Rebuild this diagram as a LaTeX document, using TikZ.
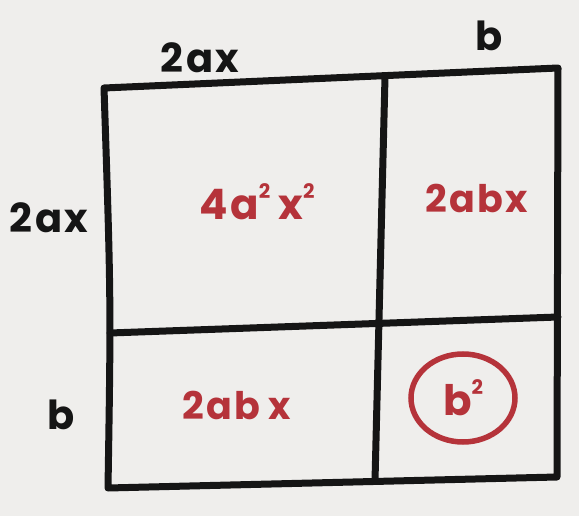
\documentclass[tikz,border=0pt]{standalone}
\usepackage{fontspec}
\setmainfont{Poppins}
\newfontfamily\handfont[LetterSpace=6]{Poppins}
\definecolor{paper}{HTML}{EFEEEC}
\definecolor{ink}{HTML}{151515}
\definecolor{redink}{HTML}{B5333A}
\tikzset{
  gridline/.style={draw=ink, line width=7pt, line join=round, line cap=round},
  blacklabel/.style={text=ink, font=\handfont\fontsize{40}{40}\selectfont\bfseries, inner sep=0pt},
  redlabel/.style={text=redink, font=\handfont\fontsize{38}{38}\selectfont\bfseries, inner sep=0pt}
}
\newcommand{\sqr}{\raisebox{0.5em}{\fontsize{20}{20}\selectfont 2}}
\begin{document}
\begin{tikzpicture}[x=1pt,y=-1pt]
\fill[paper] (0,0) rectangle (579,516);
\useasboundingbox (0,0) rectangle (579,516);
% corners
\coordinate (tl) at (104,88);
\coordinate (tr) at (558,68);
\coordinate (br) at (557,477);
\coordinate (bl) at (108,488);
\coordinate (vt) at (385,77);
\coordinate (vb) at (375,481);
\coordinate (hl) at (110,333);
\coordinate (hr) at (558,317);
\draw[gridline] (tl) -- (tr) -- (br) -- (bl) .. controls (111,300) .. (tl);
\draw[gridline] (vt) -- (vb);
\draw[gridline] (hl) -- (hr);
% labels
\node[blacklabel] (top2ax) at (200,58) {2ax};
\node[blacklabel] (topb) at (489,36) {b};
\node[blacklabel] (left2ax) at (49,218) {2ax};
\node[blacklabel] (leftb) at (61,415) {b};
\node[redlabel, font=\handfont\fontsize{42}{42}\selectfont\bfseries] (tlcell) at (257,202) {4a\sqr\hspace{8pt}x\sqr};
\node[redlabel] (trcell) at (477,198) {2abx};
\node[redlabel] (blcell) at (237,405) {2ab\hspace{8pt}x};
\node[redlabel, font=\handfont\fontsize{42}{42}\selectfont\bfseries] (brcell) at (463,398) {b\sqr};
\draw[redink, line width=5.5pt] (brcell) ellipse [x radius=52, y radius=44];
\end{tikzpicture}
\end{document}
